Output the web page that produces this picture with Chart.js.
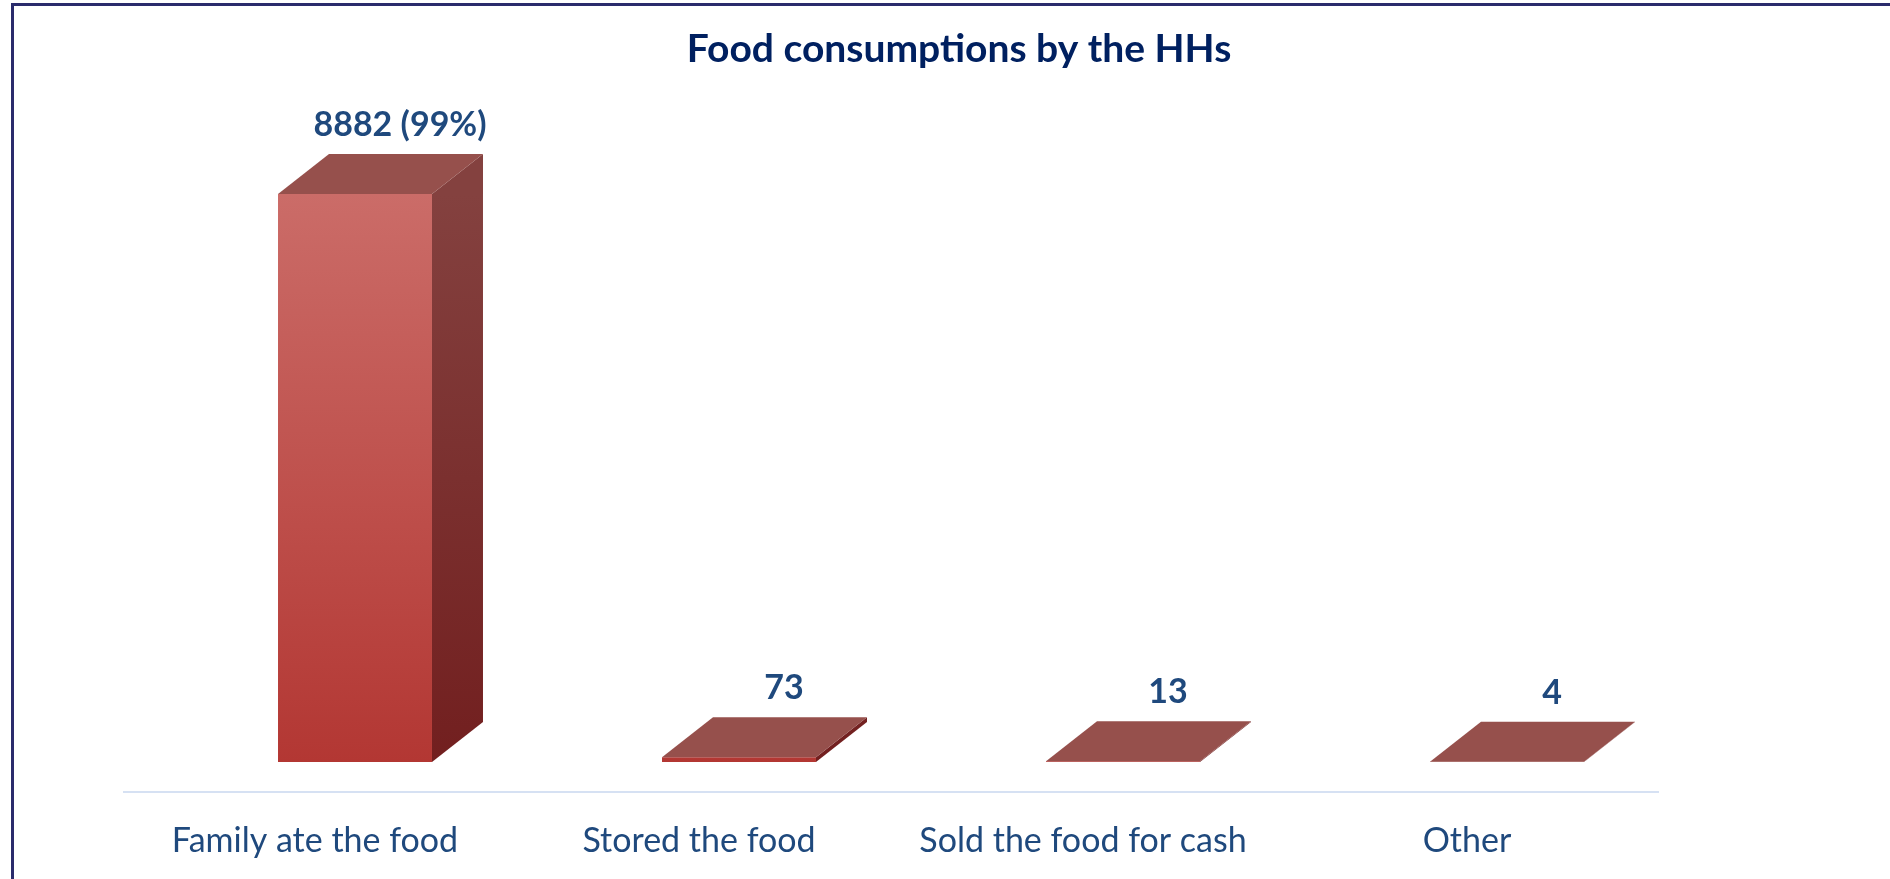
<!DOCTYPE html>
<html>
<head>
<meta charset="utf-8">
<title>Food consumptions by the HHs</title>
<script src="https://cdn.jsdelivr.net/npm/chart.js@4.4.1/dist/chart.umd.min.js"></script>
<style>
  html, body { margin: 0; padding: 0; background: #fff; overflow: hidden; }
  canvas { display: block; }
</style>
</head>
<body>
<canvas id="food_chart" width="1890" height="879"></canvas>
<script>
const categories = ["Family ate the food", "Stored the food", "Sold the food for cash", "Other"];
const household_counts = [8882, 73, 13, 4];
const share_labels = ["99%", "", "", ""];
const chart_title = "Food consumptions by the HHs";

// depth of the fake 3d boxes
const depth_x = 51;
const depth_y = 40;
// tick labels and floor sit a bit left of the bars
const label_shift = 40;

function vertical_gradient(chart, top_color, bottom_color) {
    const y = chart.scales.y;
    if (!y) return bottom_color;
    const y0 = y.getPixelForValue(Math.max(...household_counts));
    const y1 = y.getPixelForValue(0);
    // scale not laid out yet
    if (!Number.isFinite(y0) || !Number.isFinite(y1) || y0 === y1) return bottom_color;
    const g = chart.ctx.createLinearGradient(0, y0, 0, y1);
    g.addColorStop(0, top_color);
    g.addColorStop(1, bottom_color);
    return g;
}

const bar_3d = {
    id: 'bar_3d',
    beforeDraw(chart) {
        const ctx = chart.ctx;
        const area = chart.chartArea;
        ctx.save();
        ctx.fillStyle = '#ffffff';
        ctx.fillRect(0, 0, chart.width, chart.height);
        // frame, top and left edge
        ctx.fillStyle = '#2a2b6c';
        ctx.fillRect(11, 3, chart.width - 11, 3);
        ctx.fillRect(11, 3, 3, chart.height - 3);
        // title is centred on the whole frame, not on the plot area
        ctx.fillStyle = '#002060';
        ctx.font = 'bold 39px Lato';
        ctx.textAlign = 'center';
        ctx.textBaseline = 'middle';
        ctx.fillText(chart_title, (14 + chart.width) / 2 + 7, 49.5);
        // floor line
        ctx.strokeStyle = '#d6e1f3';
        ctx.lineWidth = 2;
        ctx.beginPath();
        ctx.moveTo(area.left - label_shift, area.bottom + 30);
        ctx.lineTo(area.right - label_shift, area.bottom + 30);
        ctx.stroke();
        ctx.restore();
    },
    afterDatasetsDraw(chart) {
        const ctx = chart.ctx;
        const meta = chart.getDatasetMeta(0);
        const side = vertical_gradient(chart, '#84413f', '#721f1f');
        ctx.save();
        meta.data.forEach(function (bar, i) {
            const left = bar.x - bar.width / 2;
            const right = bar.x + bar.width / 2;
            const top = bar.y;
            const base = bar.base;

            ctx.fillStyle = side;
            ctx.beginPath();
            ctx.moveTo(right, top);
            ctx.lineTo(right + depth_x, top - depth_y);
            ctx.lineTo(right + depth_x, base - depth_y);
            ctx.lineTo(right, base);
            ctx.closePath();
            ctx.fill();

            ctx.fillStyle = '#96504c';
            ctx.beginPath();
            ctx.moveTo(left, top);
            ctx.lineTo(left + depth_x, top - depth_y);
            ctx.lineTo(right + depth_x, top - depth_y);
            ctx.lineTo(right, top);
            ctx.closePath();
            ctx.fill();

            let text = String(household_counts[i]);
            if (share_labels[i]) text += " (" + share_labels[i] + ")";
            ctx.fillStyle = '#1f497d';
            ctx.font = 'bold 34px Lato';
            ctx.textAlign = 'center';
            ctx.textBaseline = 'alphabetic';
            ctx.fillText(text, bar.x + 45, top - depth_y - 18);
        });
        ctx.restore();
    }
};

const ctx = document.getElementById('food_chart').getContext('2d');
new Chart(ctx, {
    type: 'bar',
    data: {
        labels: categories,
        datasets: [{
            data: household_counts,
            backgroundColor: function (context) {
                return vertical_gradient(context.chart, '#cb6c68', '#b33733');
            },
            borderWidth: 0,
            categoryPercentage: 1,
            barPercentage: 0.401
        }]
    },
    options: {
        responsive: false,
        animation: false,
        devicePixelRatio: 1,
        layout: { padding: { left: 163, right: 191, top: 122.5, bottom: 0 } },
        plugins: {
            legend: { display: false },
            tooltip: { enabled: false },
            title: { display: false }
        },
        scales: {
            x: {
                grid: { display: false, drawTicks: false },
                border: { display: false },
                ticks: {
                    color: '#1f497d',
                    font: { family: 'Lato', size: 34 },
                    padding: 59,
                    labelOffset: -label_shift,
                    maxRotation: 0,
                    autoSkip: false
                },
                afterFit: function (scale) {
                    scale.height = 117;
                }
            },
            y: { display: false, min: 0, max: 10000 }
        }
    },
    plugins: [bar_3d]
});
</script>
</body>
</html>
